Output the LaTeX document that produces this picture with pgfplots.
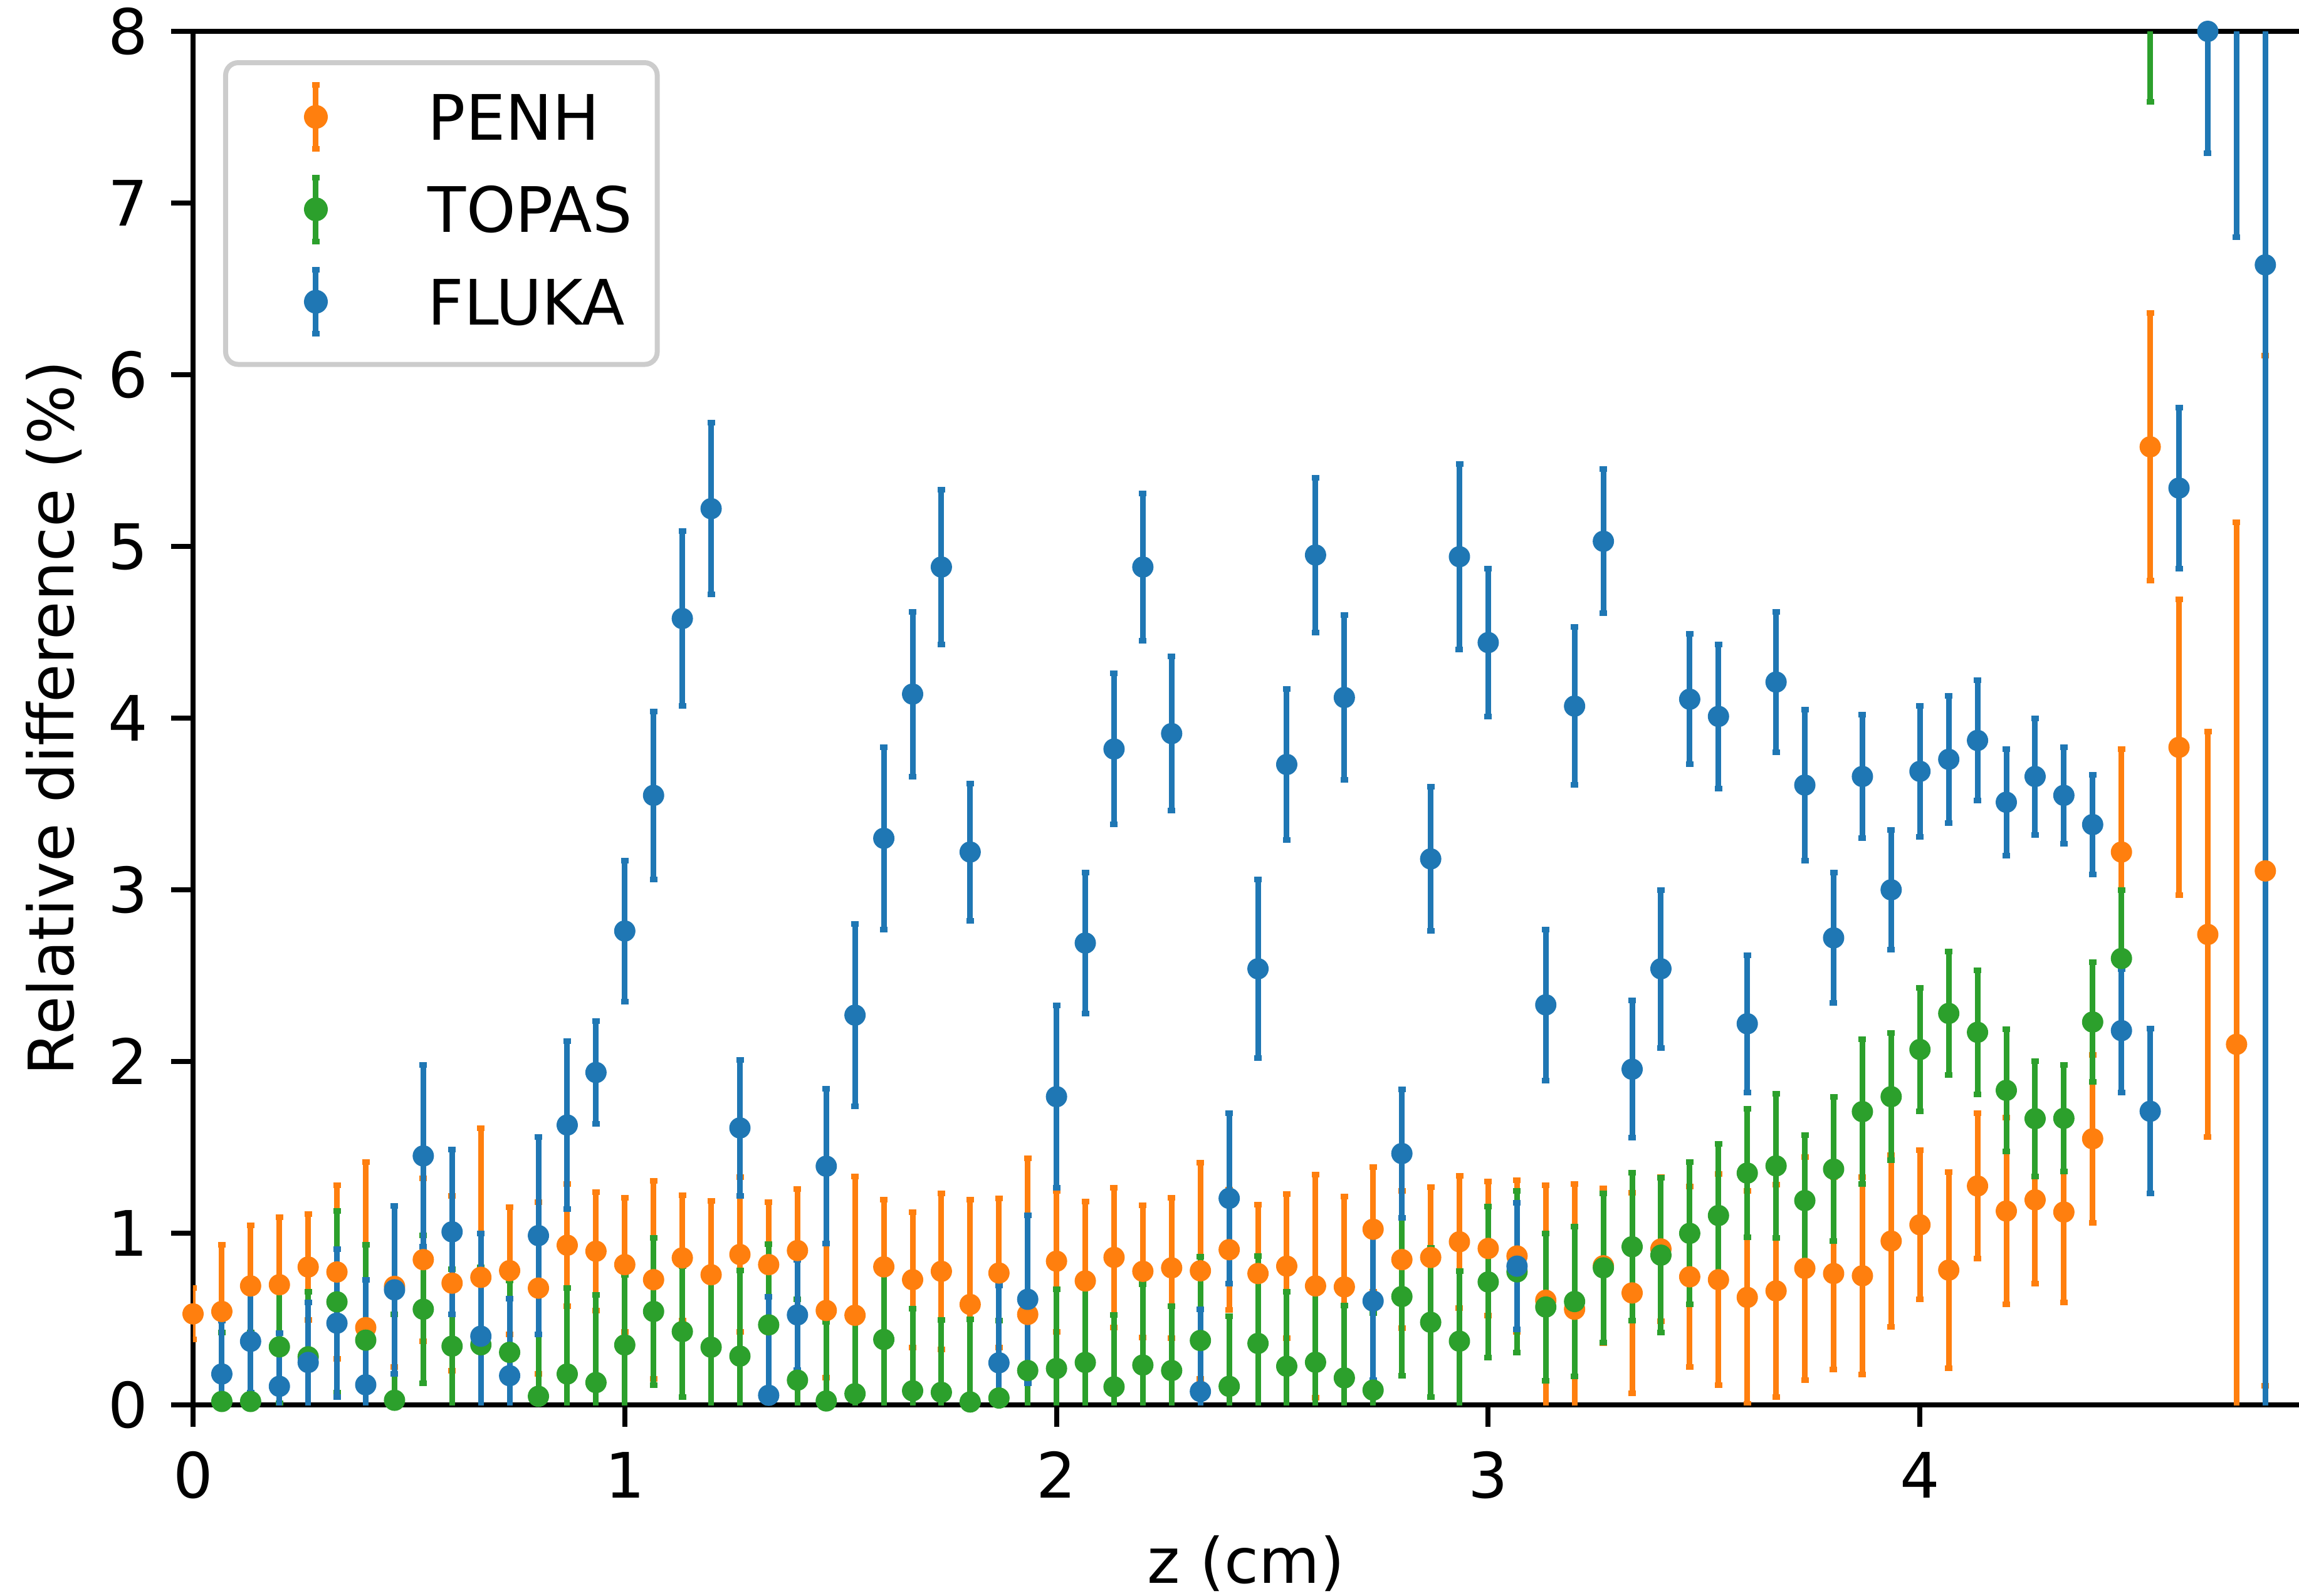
\documentclass[border=0pt]{standalone}
\usepackage{fontspec}
\setmainfont{DejaVu Sans}
\usepackage{pgfplots}
\usepackage{pgfplotstable}
\pgfplotsset{compat=1.18}
\definecolor{cPenh}{HTML}{FF7F0E}
\definecolor{cTopas}{HTML}{2CA02C}
\definecolor{cFluka}{HTML}{1F77B4}

\pgfplotstableread{
x      penh   penhe  topas  topase fluka  flukae
0.0000 0.530  0.150  nan    nan    nan    nan
0.0667 0.544  0.387  0.020  0.400  0.180  0.310
0.1333 0.693  0.354  0.020  0.400  0.370  0.300
0.2000 0.700  0.394  0.338  0.330  0.108  0.310
0.2667 0.803  0.310  0.280  0.380  0.247  0.350
0.3333 0.774  0.505  0.600  0.530  0.476  0.430
0.4000 0.450  0.965  0.377  0.557  0.117  0.610
0.4667 0.690  0.470  0.027  0.500  0.670  0.490
0.5333 0.846  0.475  0.557  0.430  1.450  0.530
0.6000 0.709  0.510  0.342  0.450  1.008  0.480
0.6667 0.743  0.870  0.350  0.450  0.400  0.600
0.7333 0.782  0.370  0.306  0.420  0.170  0.450
0.8000 0.680  0.500  0.050  0.360  0.986  0.575
0.8667 0.930  0.355  0.180  0.500  1.630  0.490
0.9333 0.895  0.345  0.130  0.510  1.936  0.300
1.0000 0.817  0.390  0.349  0.410  2.760  0.410
1.0667 0.729  0.576  0.544  0.430  3.550  0.490
1.1333 0.856  0.365  0.427  0.380  4.580  0.510
1.2000 0.758  0.430  0.336  0.450  5.220  0.500
1.2667 0.876  0.450  0.284  0.500  1.613  0.395
1.3333 0.817  0.365  0.466  0.470  0.056  0.575
1.4000 0.899  0.360  0.144  0.470  0.524  0.320
1.4667 0.550  0.390  0.023  0.460  1.390  0.450
1.5333 0.522  0.810  0.065  0.450  2.270  0.530
1.6000 0.804  0.390  0.381  0.450  3.300  0.530
1.6667 0.729  0.394  0.082  0.480  4.140  0.480
1.7333 0.778  0.455  0.073  0.420  4.880  0.450
1.8000 0.585  0.610  0.017  0.480  3.220  0.400
1.8667 0.768  0.435  0.040  0.450  0.245  0.450
1.9333 0.527  0.910  0.200  0.450  0.615  0.490
2.0000 0.837  0.410  0.212  0.460  1.795  0.530
2.0667 0.722  0.462  0.247  0.450  2.690  0.410
2.1333 0.859  0.407  0.105  0.420  3.820  0.440
2.2000 0.778  0.384  0.232  0.470  4.880  0.430
2.2667 0.798  0.410  0.200  0.376  3.910  0.450
2.3333 0.781  0.628  0.375  0.490  0.078  0.480
2.4000 0.904  0.350  0.108  0.410  1.203  0.496
2.4667 0.765  0.400  0.358  0.510  2.540  0.520
2.5333 0.808  0.420  0.225  0.435  3.730  0.440
2.6000 0.693  0.650  0.248  0.450  4.950  0.450
2.6667 0.687  0.527  0.157  0.420  4.120  0.480
2.7333 1.023  0.363  0.086  0.450  0.605  0.460
2.8000 0.846  0.400  0.631  0.460  1.464  0.375
2.8667 0.859  0.410  0.481  0.434  3.180  0.420
2.9333 0.950  0.385  0.371  0.410  4.940  0.540
3.0000 0.911  0.390  0.716  0.440  4.440  0.430
3.0667 0.867  0.440  0.775  0.470  0.808  0.370
3.1333 0.609  0.670  0.570  0.430  2.330  0.440
3.2000 0.557  0.730  0.602  0.436  4.070  0.460
3.2667 0.810  0.450  0.798  0.435  5.030  0.420
3.3333 0.652  0.584  0.921  0.430  1.955  0.400
3.4000 0.908  0.420  0.872  0.450  2.540  0.460
3.4667 0.746  0.526  0.999  0.414  4.110  0.380
3.5333 0.729  0.615  1.103  0.416  4.010  0.420
3.6000 0.626  0.620  1.350  0.375  2.220  0.400
3.6667 0.664  0.620  1.392  0.420  4.210  0.410
3.7333 0.795  0.650  1.190  0.380  3.610  0.440
3.8000 0.765  0.560  1.373  0.420  2.720  0.380
3.8667 0.752  0.575  1.708  0.420  3.660  0.360
3.9333 0.954  0.500  1.795  0.370  3.000  0.350
4.0000 1.049  0.433  2.070  0.360  3.690  0.380
4.0667 0.785  0.572  2.280  0.360  3.760  0.370
4.1333 1.275  0.423  2.170  0.360  3.870  0.350
4.2000 1.129  0.544  1.832  0.355  3.510  0.310
4.2667 1.194  0.488  1.667  0.336  3.660  0.340
4.3333 1.123  0.527  1.669  0.310  3.550  0.280
4.4000 1.550  0.488  2.230  0.350  3.380  0.290
4.4667 3.220  0.600  2.600  0.400  2.180  0.360
4.5333 5.580  0.780  8.400  0.810  1.710  0.480
4.6000 3.830  0.860  nan    nan    5.340  0.470
4.6667 2.740  1.180  nan    nan    8.000  0.710
4.7333 2.100  3.040  nan    nan    9.000  2.200
4.8000 3.110  3.000  nan    nan    6.640  7.000
}\datatable

\pgfplotsset{
  errstyle/.style={
    only marks, mark=*, mark size=1.5bp, mark options={draw=none},
    legend image code/.code={
      \path (0bp,-6.5bp) (20bp,5.1bp);
      \draw[line width=0.9bp] (10bp,-5.1bp) -- (10bp,5.1bp);
      \draw[line width=0.9bp] (9.4bp,-5.1bp) -- (10.6bp,-5.1bp) (9.4bp,5.1bp) -- (10.6bp,5.1bp);
      \fill[fill opacity=1] (10bp,0bp) circle (1.5bp);
    },
    error bars/y dir=both,
    error bars/y explicit,
    error bars/error bar style={line width=0.9bp, solid},
    error bars/error mark options={rotate=90, mark size=0.6bp, line width=0.9bp},
  }
}

\begin{document}
\fontsize{10bp}{12bp}\selectfont
\begin{tikzpicture}
\path[use as bounding box] (-30.8bp,-30.5bp) rectangle (336bp,224.2bp);
\begin{axis}[
  at={(0,0)}, anchor=south west,
  scale only axis, width=336bp, height=219.2bp,
  xmin=0, xmax=4.878, ymin=0, ymax=8,
  axis x line*=box, axis y line*=left,
  xtick={0,1,2,3,4}, ytick={0,1,2,3,4,5,6,7,8},
  xtick pos=left, ytick pos=left,
  tick align=outside,
  major tick length=3.5bp,
  every tick/.style={black, line width=0.8bp},
  axis line style={black, line width=0.8bp},
  /pgf/number format/assume math mode=true,
  xticklabel style={anchor=north, inner sep=0pt, text height=7.3bp, text depth=0pt},
  yticklabel style={anchor=east, inner sep=0pt, text height=7.3bp, text depth=0pt},
  xticklabel shift=3.8bp,
  yticklabel shift=3.5bp,
  xlabel={z (cm)},
  ylabel={Relative difference (\%)},
  xlabel style={at={(axis description cs:0.5,-0.1300)}, anchor=base, inner sep=0pt},
  ylabel style={at={(axis description cs:-0.05655,0.5)}, anchor=base, inner sep=0pt},
  legend cell align=left,
  legend style={
    at={(axis description cs:0,1)}, anchor=north west, xshift=4.8bp, yshift=-4.6bp,
    draw=black!20, line width=0.8bp, rounded corners=2bp,
    fill=white, fill opacity=0.8, text opacity=1,
    inner xsep=4.0bp, inner ysep=3.1bp, row sep=2.3bp, column sep=7.5bp,
    nodes={inner sep=0pt, text height=7.3bp, text depth=0pt},
  },
]
\addplot[color=cPenh, errstyle] table[x=x, y=penh, y error=penhe] {\datatable};
\addlegendentry{PENH}
\addplot[color=cTopas, errstyle] table[x=x, y=topas, y error=topase] {\datatable};
\addlegendentry{TOPAS}
\addplot[color=cFluka, errstyle] table[x=x, y=fluka, y error=flukae] {\datatable};
\addlegendentry{FLUKA}
\end{axis}
\end{tikzpicture}
\end{document}
